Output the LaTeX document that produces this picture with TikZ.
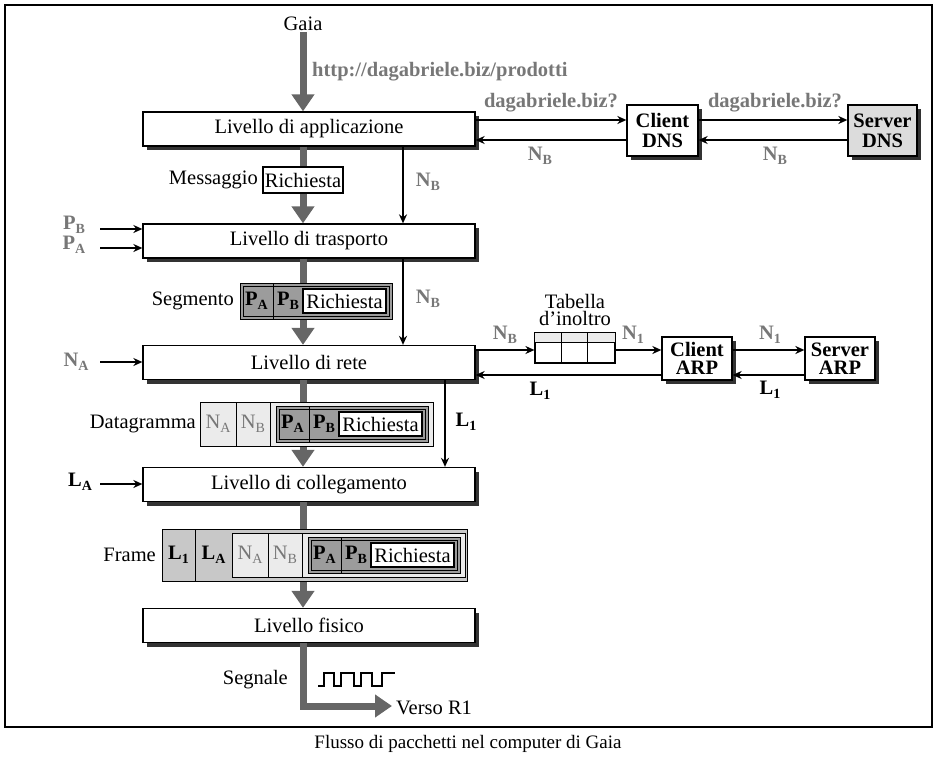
\documentclass[tikz,border=0pt]{standalone}
\usepackage{fontspec}
\setmainfont{Liberation Serif}
\usetikzlibrary{arrows.meta,shadows}
\definecolor{lblgray}{HTML}{777777}
\definecolor{arrgray}{HTML}{666666}
\definecolor{darkcell}{HTML}{9C9C9C}
\definecolor{lightcell}{HTML}{EBEBEB}
\definecolor{midcell}{HTML}{C8C8C8}
\definecolor{srvgray}{HTML}{DCDCDC}
\newcommand\fs{\fontsize{20.5}{22}\selectfont}
\newcommand\lsub[2]{#1\raisebox{-0.45ex}{\fontsize{14}{14}\selectfont #2}}
\tikzset{
 shad/.style={drop shadow={shadow xshift=4pt,shadow yshift=-4pt,fill=black!80,opacity=1}},
 layer/.style={draw,line width=1.3pt,fill=white,minimum width=332pt,minimum height=34pt,inner sep=0pt,font=\fs,shad},
 smallbox/.style={draw,line width=1.3pt,fill=white,minimum width=70pt,minimum height=44pt,inner sep=0pt,align=center,shad},
 mainarr/.style={line width=7pt,draw=arrgray,-{Triangle[length=17pt,width=22pt]}},
 tarr/.style={line width=1.5pt,-{Stealth[length=9pt,width=8pt]}},
 glab/.style={font=\fs\bfseries,text=lblgray,inner sep=1pt},
 blab/.style={font=\fs\bfseries,inner sep=1pt},
 txt/.style={font=\fs,inner sep=1pt},
 seg/.pic={
  \draw[line width=1pt,fill=darkcell] (0,0) rectangle (152,36);
  \draw[line width=0.8pt] (3,3) rectangle (149,33);
  \draw[line width=1pt] (33,0) -- (33,36);
  \draw[line width=1.2pt,fill=white] (63,6) rectangle (146,30);
  \node[blab] (-pa) at (16.5,18) {\lsub{P}{A}};
  \node[blab] (-pb) at (48,18) {\lsub{P}{B}};
  \node[txt] (-ri) at (104.5,18) {Richiesta};
 },
 dgram/.pic={
  \draw[line width=1pt,fill=lightcell] (0,0) rectangle (233,44);
  \draw[line width=1pt] (36,0) -- (36,44);
  \draw[line width=1pt] (70,0) -- (70,44);
  \pic (-s) at (76,4) {seg};
  \node[txt,text=lblgray] (-na) at (18,22) {\lsub{N}{A}};
  \node[txt,text=lblgray] (-nb) at (53,22) {\lsub{N}{B}};
 },
 frm/.pic={
  \draw[line width=1pt,fill=midcell] (0,0) rectangle (305,52);
  \draw[line width=1pt] (33,0) -- (33,52);
  \pic (-d) at (70,4) {dgram};
  \node[blab] (-l1) at (16.5,26) {\lsub{L}{1}};
  \node[blab] (-la) at (51.5,26) {\lsub{L}{A}};
 },
}
\begin{document}
\begin{tikzpicture}[x=1pt,y=-1pt]
\useasboundingbox (0,0) rectangle (938,760);
\draw[line width=1.3pt] (5,5) rectangle (932,727);
\node[font=\fontsize{19}{20}\selectfont] (cap) at (468,744) {Flusso di pacchetti nel computer di Gaia};

% layers
\node[layer] (app) at (309,129) {Livello di applicazione};
\node[layer] (trans) at (309,241) {Livello di trasporto};
\node[layer] (rete) at (309,362.5) {Livello di rete};
\node[layer] (coll) at (309,484.5) {Livello di collegamento};
\node[layer] (fis) at (309,625.5) {Livello fisico};

% main flow
\coordinate (col) at (303,0);
\coordinate (vend) at (392,706);
\node[txt] (gaia) at (303,24) {Gaia};
\node[glab,anchor=west] (url) at (311,72) {http://dagabriele.biz/prodotti};
\draw[mainarr] (gaia.south) -- (col |- app.north);
\draw[mainarr] (col |- app.south) -- (col |- trans.north);
\draw[mainarr] (col |- trans.south) -- (col |- rete.north);
\draw[mainarr] (col |- rete.south) -- (col |- coll.north);
\draw[mainarr] (col |- coll.south) -- (col |- fis.north);
\draw[mainarr] (col |- fis.south) -- (col |- vend) -- (vend);

% packets
\node[txt,anchor=east] (msg) at (259,180) {Messaggio};
\node[draw,line width=1.2pt,fill=white,minimum width=80pt,minimum height=26pt,inner sep=0pt,font=\fs] (req) at (303,180) {Richiesta};
\node[txt,anchor=east] (segl) at (235,301) {Segmento};
\pic (sg) at (240,283) {seg};
\node[txt,anchor=east] (dgl) at (197,424) {Datagramma};
\pic (dg) at (200,402) {dgram};
\node[txt,anchor=east] (frl) at (157,555) {Frame};
\pic (fr) at (162,529) {frm};
\node[txt,anchor=east] (sgn) at (289,680) {Segnale};
\node[txt,anchor=west] (verso) at (395,708) {Verso R1};
\draw[line width=1.2pt] (318,686) -- (324,686) -- (324,673) -- (334,673) -- (334,686) -- (341,686) -- (341,673) -- (354,673) -- (354,686) -- (361,686) -- (361,673) -- (372,673) -- (372,686) -- (382,686) -- (382,673) -- (395,673);

% left inputs
\coordinate (pbs) at (100,229);
\coordinate (pas) at (100,248);
\coordinate (nas) at (100,362);
\coordinate (las) at (100,484);
\draw[tarr] (pbs) -- (pbs -| trans.west);
\draw[tarr] (pas) -- (pas -| trans.west);
\draw[tarr] (nas) -- (nas -| rete.west);
\draw[tarr] (las) -- (las -| coll.west);
\node[glab] (pbl) at (74,225) {\lsub{P}{B}};
\node[glab] (pal) at (74,245) {\lsub{P}{A}};
\node[glab] (nal) at (76,362) {\lsub{N}{A}};
\node[blab] (lal) at (80,482) {\lsub{L}{A}};

% vertical thin arrows
\coordinate (vx) at (403,0);
\coordinate (lx) at (445,0);
\draw[tarr] (vx |- app.south) -- (vx |- trans.north);
\draw[tarr] (vx |- trans.south) -- (vx |- rete.north);
\draw[tarr] (lx |- rete.south) -- (lx |- coll.north);
\node[glab] (nbv1) at (428,182) {\lsub{N}{B}};
\node[glab] (nbv2) at (428,299) {\lsub{N}{B}};
\node[blab] (l1v) at (466,422) {\lsub{L}{1}};

% DNS
\node[smallbox,minimum width=71pt,minimum height=51pt,font=\fontsize{20.5}{20}\selectfont\bfseries] (cdns) at (662.5,130.5) {Client\\DNS};
\node[smallbox,fill=srvgray,minimum width=69pt,minimum height=51pt,font=\fontsize{20.5}{20}\selectfont\bfseries] (sdns) at (882.5,130.5) {Server\\DNS};
\coordinate (r1) at (0,120);
\coordinate (r2) at (0,140);
\draw[tarr] (app.east |- r1) -- (cdns.west |- r1);
\draw[tarr] (cdns.west |- r2) -- (app.east |- r2);
\draw[tarr] (cdns.east |- r1) -- (sdns.west |- r1);
\draw[tarr] (sdns.west |- r2) -- (cdns.east |- r2);
\node[glab] (q1) at (551,103) {dagabriele.biz?};
\node[glab] (q2) at (775,103) {dagabriele.biz?};
\node[glab] (nb1) at (540,156) {\lsub{N}{B}};
\node[glab] (nb2) at (775,156) {\lsub{N}{B}};

% ARP
\node[draw,line width=1.2pt,fill=white,minimum width=80pt,minimum height=30pt,inner sep=0pt] (tab) at (575,348) {};
\draw[line width=1pt,fill=lightcell] (tab.north west) rectangle ([yshift=-10pt]tab.north east);
\draw[line width=1pt] ([xshift=27pt]tab.north west) -- ([xshift=27pt]tab.south west);
\draw[line width=1pt] ([xshift=53pt]tab.north west) -- ([xshift=53pt]tab.south west);
\node[txt,align=center,font=\fontsize{20.5}{17}\selectfont] (tabl) at (575,310) {Tabella\\d'inoltro};
\node[smallbox,minimum width=70pt,minimum height=43pt,font=\fontsize{20.5}{18}\selectfont\bfseries] (carp) at (697,358.5) {Client\\ARP};
\node[smallbox,minimum width=70pt,minimum height=43pt,font=\fontsize{20.5}{18}\selectfont\bfseries] (sarp) at (840,358.5) {Server\\ARP};
\coordinate (r3) at (0,350);
\coordinate (r4) at (0,375);
\draw[tarr] (rete.east |- r3) -- (tab.west |- r3);
\draw[tarr] (tab.east |- r3) -- (carp.west |- r3);
\draw[tarr] (carp.east |- r3) -- (sarp.west |- r3);
\draw[tarr] (sarp.west |- r4) -- (carp.east |- r4);
\draw[tarr] (carp.west |- r4) -- (rete.east |- r4);
\node[glab] (nb3) at (505,335) {\lsub{N}{B}};
\node[glab] (n1a) at (633,335) {\lsub{N}{1}};
\node[glab] (n1b) at (770,335) {\lsub{N}{1}};
\node[blab] (l1a) at (770,390) {\lsub{L}{1}};
\node[blab] (l1b) at (540,391) {\lsub{L}{1}};
\end{tikzpicture}
\end{document}
